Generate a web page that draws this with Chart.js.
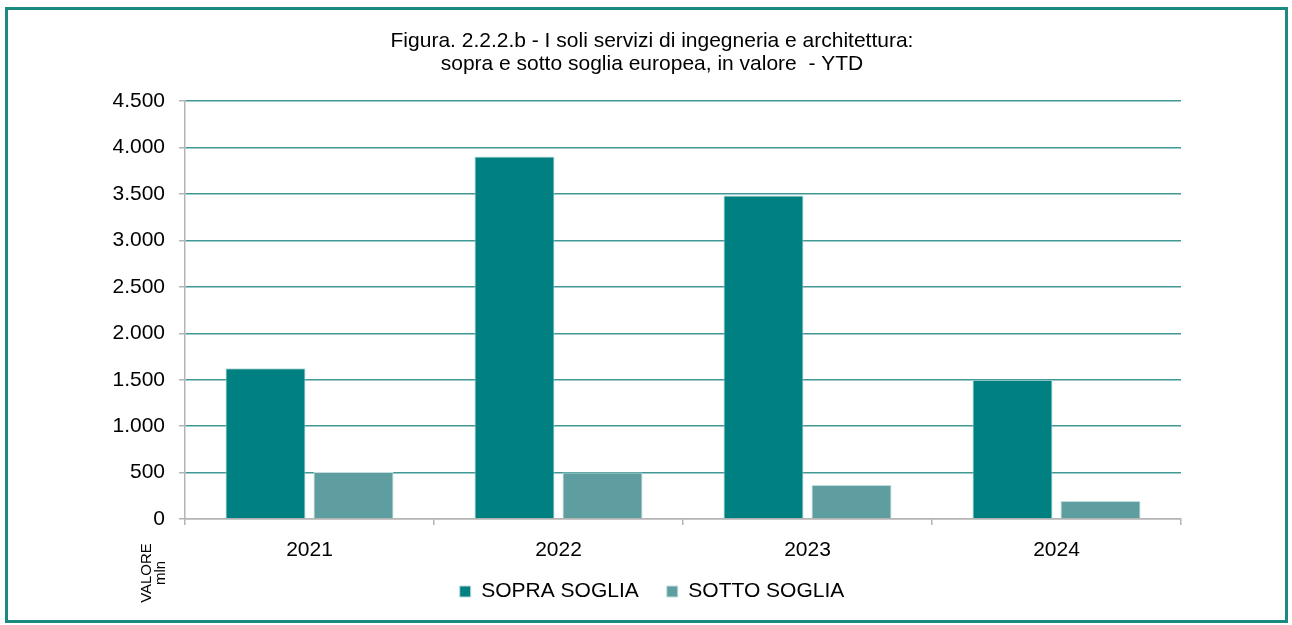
<!DOCTYPE html>
<html lang="it">
<head>
  <meta charset="UTF-8">
  <title>Servizi di ingegneria e architettura</title>
  <style>
    body {
      margin: 0;
      background: #ffffff;
      font-family: "Liberation Sans", Arial, sans-serif;
    }
    .frame {
      position: absolute;
      left: 5px;
      top: 7px;
      width: 1277px;
      height: 610px;
      border: 3px solid #1b8a80;
    }
    .chart-box {
      position: absolute;
      left: 0;
      top: 0;
      width: 1292px;
      height: 625px;
    }
  </style>
  <script src="https://cdn.jsdelivr.net/npm/chart.js"></script>
</head>
<body>
  <div class="frame"></div>
  <div class="chart-box">
    <canvas id="chart" width="1292" height="625"></canvas>
  </div>

  <script>
    // data (mln di euro)
    const years = ['2021', '2022', '2023', '2024'];
    const sopraSoglia = [1625, 3905, 3485, 1500];
    const sottoSoglia = [505, 500, 365, 195];
    const yTicks = [0, 500, 1000, 1500, 2000, 2500, 3000, 3500, 4000, 4500];

    const titleLines = [
      'Figura. 2.2.2.b - I soli servizi di ingegneria e architettura:',
      'sopra e sotto soglia europea, in valore  - YTD'
    ];

    const FONT = '"Liberation Sans", Arial, sans-serif';
    const AXIS_GREY = '#b4b4b4';

    function fmt(v) {
      return v.toLocaleString('it-IT');
    }

    // rotated "VALORE mln" label under the y axis
    const unitLabel = {
      id: 'unitLabel',
      afterLayout(chart) {
        // legend sits a bit closer to the axis than Chart.js puts it
        if (chart.legend) {
          chart.legend.top -= 11;
          chart.legend.bottom -= 11;
        }
      },
      afterDraw(chart) {
        const ctx = chart.ctx;
        ctx.save();
        ctx.fillStyle = '#000';
        ctx.font = '15px ' + FONT;
        ctx.textAlign = 'center';
        ctx.textBaseline = 'middle';
        ctx.translate(147, 573);
        ctx.rotate(-Math.PI / 2);
        ctx.fillText('VALORE', 0, 0);
        ctx.fillText('mln', 0, 14);
        ctx.restore();
      }
    };

    const ctx = document.getElementById('chart').getContext('2d');
    new Chart(ctx, {
      type: 'bar',
      data: {
        labels: years,
        datasets: [
          {
            label: 'SOPRA SOGLIA',
            data: sopraSoglia,
            backgroundColor: '#008080',
            borderColor: '#b9dcda',
            borderWidth: 1
          },
          {
            label: 'SOTTO SOGLIA',
            data: sottoSoglia,
            backgroundColor: '#5f9ea0',
            borderColor: '#c4dedd',
            borderWidth: 1
          }
        ]
      },
      options: {
        responsive: false,
        animation: false,
        categoryPercentage: 0.707,
        barPercentage: 0.91,
        layout: {
          padding: { top: 30, left: 100, right: 88, bottom: 2 }
        },
        plugins: {
          title: {
            display: true,
            text: titleLines,
            color: '#000',
            font: { family: FONT, size: 21, weight: 'normal', lineHeight: 1.1 },
            padding: { top: 0, bottom: 25 }
          },
          legend: {
            position: 'bottom',
            labels: {
              color: '#000',
              font: { family: FONT, size: 21 },
              boxWidth: 11,
              boxHeight: 11,
              padding: 28
            }
          },
          tooltip: { enabled: false }
        },
        scales: {
          x: {
            grid: {
              offset: true,
              color: c => (c.index === years.length ? AXIS_GREY : 'rgba(0,0,0,0)'),
              tickColor: AXIS_GREY,
              tickLength: 6,
              lineWidth: 1.5
            },
            border: { color: AXIS_GREY, width: 1.5 },
            ticks: {
              color: '#000',
              font: { family: FONT, size: 21 },
              padding: 13
            },
            afterFit: s => { s.height = 45; }
          },
          y: {
            min: 0,
            max: 4500,
            afterBuildTicks: s => { s.ticks = yTicks.map(v => ({ value: v })); },
            grid: {
              color: c => (c.tick && c.tick.value === 0 ? AXIS_GREY : '#3f9894'),
              tickColor: AXIS_GREY,
              tickLength: 6,
              lineWidth: 1.5
            },
            border: { color: AXIS_GREY, width: 1.5 },
            ticks: {
              color: '#000',
              font: { family: FONT, size: 21 },
              padding: 14,
              callback: v => fmt(v)
            },
            afterFit: s => { s.width = 85; }
          },
          // empty right-hand axis, only there to keep title and legend centred like the original
          spacer: {
            type: 'linear',
            position: 'right',
            grid: { display: false },
            border: { display: false },
            ticks: { display: false },
            afterFit: s => { s.width = 23; }
          }
        }
      },
      plugins: [unitLabel]
    });
  </script>
</body>
</html>
